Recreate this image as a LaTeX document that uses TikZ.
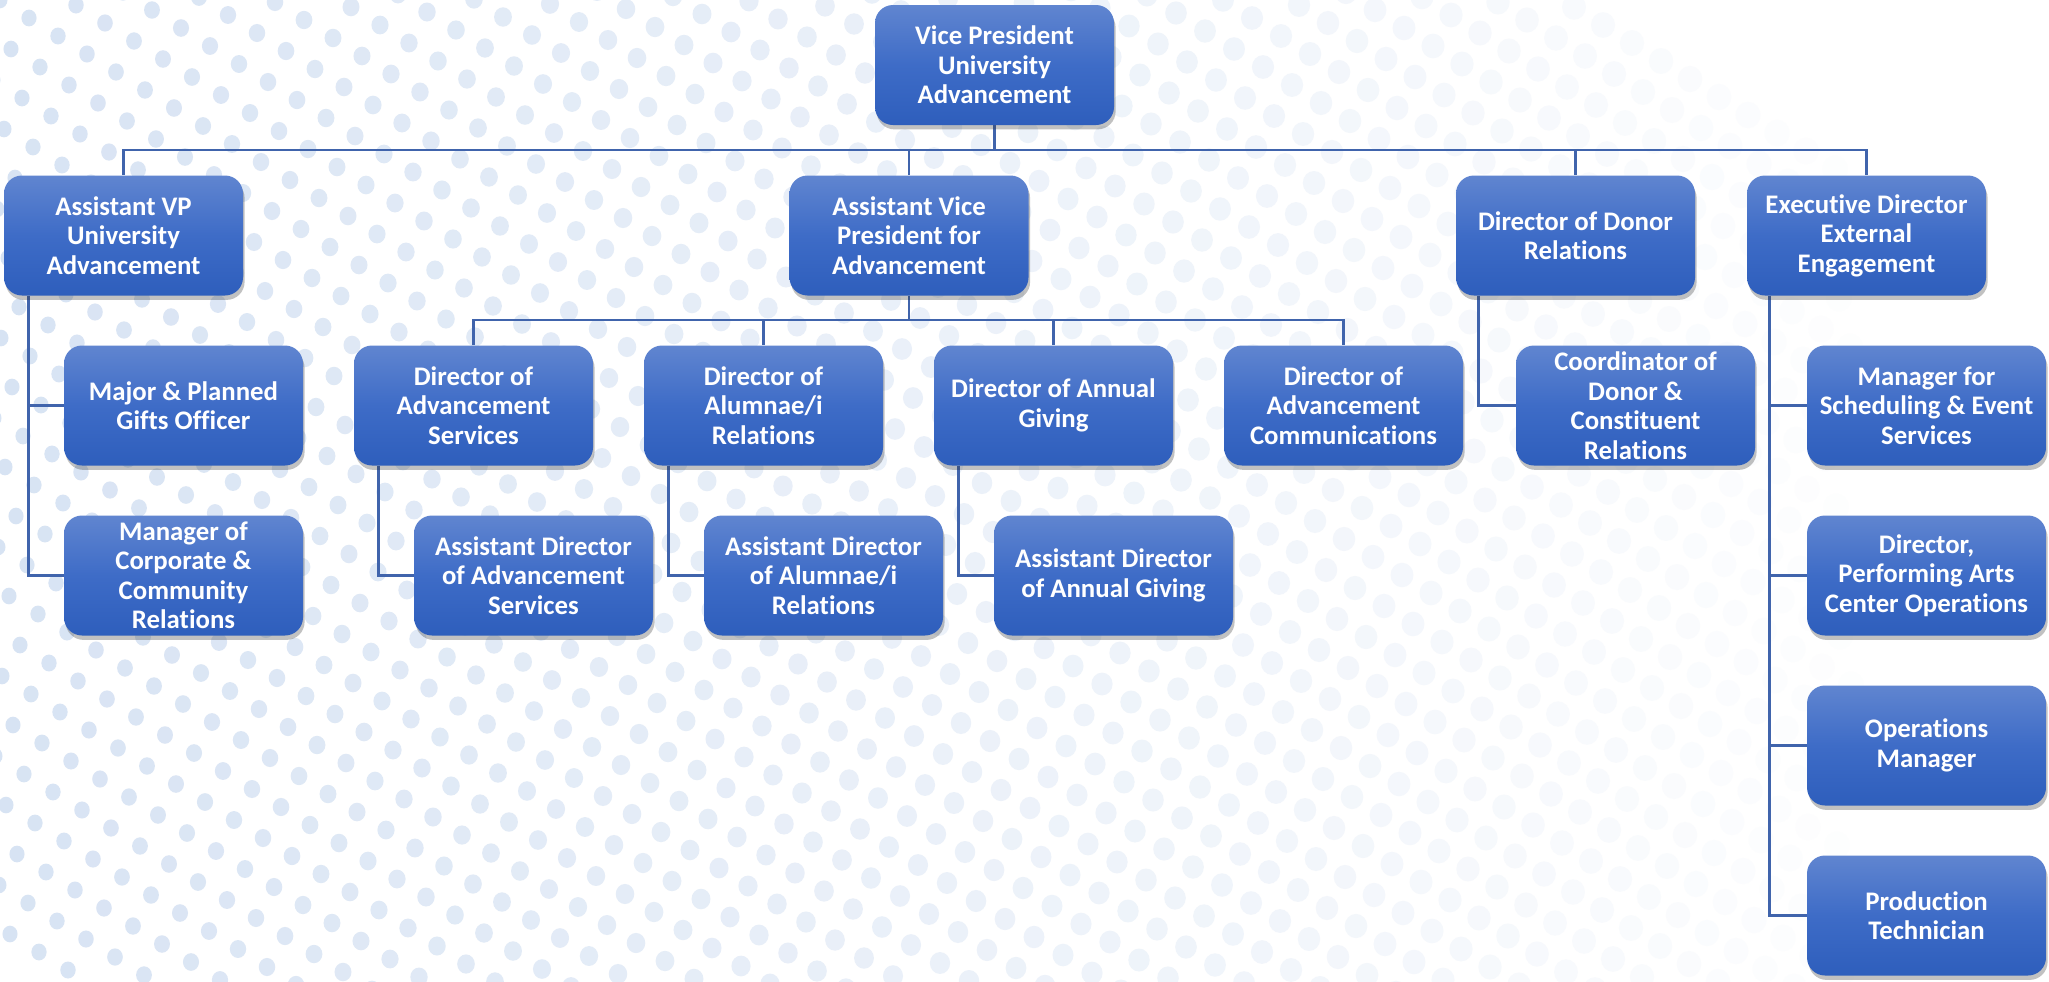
\documentclass[tikz,border=0pt]{standalone}
\usepackage{fontspec}
\setmainfont{Carlito}[Ligatures=NoCommon]
\usetikzlibrary{shadows}
\definecolor{boxtop}{RGB}{96,133,208}
\definecolor{boxmid}{RGB}{62,108,199}
\definecolor{boxbot}{RGB}{46,94,188}
\definecolor{linec}{RGB}{64,100,172}
\definecolor{dotc}{RGB}{208,222,241}
\pgfdeclarelayer{dots}\pgfdeclarelayer{lines}\pgfsetlayers{dots,lines,main}
\tikzset{
 orgbox/.style={rectangle, rounded corners=9pt, minimum width=119.5pt, minimum height=60pt,
   inner sep=0pt, align=center, text=white,
   font={\fontsize{13.4pt}{14.75pt}\selectfont\bfseries},
   top color=boxtop, bottom color=boxbot, middle color=boxmid,
   drop shadow={shadow xshift=0.8pt, shadow yshift=-2.2pt, opacity=0.3, fill=black!80}},
 conn/.style={draw=linec, line width=1.2pt}
}
\begin{document}
\begin{tikzpicture}[x=0.5pt,y=-0.5pt]
\useasboundingbox (0,0) rectangle (2049,981);
\begin{pgfonlayer}{dots}
\fill[white] (0,0) rectangle (2049,981);
\begin{scope}
\clip (0,0) rectangle (2049,981);
\foreach \n in {-6,...,60}{
 \foreach \m in {-23,...,23}{
  \pgfmathsetmacro\px{\n*29+\m*76}
  \pgfmathsetmacro\py{\n*18+\m*5}
  \pgfmathtruncatemacro\op{max(0,min(85,85-\px*0.04375))}
  \ifnum\op>3
   \ifdim\py pt>-20pt \ifdim\py pt<1000pt \ifdim\px pt>-20pt
     \pgfmathsetmacro\dotrx{7.5+max(0,\px)*0.0028}
     \pgfmathsetmacro\dotry{\dotrx+0.8}
     \fill[dotc!\op!white] (\px,\py) ellipse [x radius=\dotrx, y radius=\dotry];
   \fi\fi\fi
  \fi
 }}
\end{scope}
\end{pgfonlayer}

% level 0
\node[orgbox] (vp) at (994.5,65) {Vice President\\University\\Advancement};
% level 1
\node[orgbox] (avpua) at (123.5,235.5) {Assistant VP\\University\\Advancement};
\node[orgbox] (avpadv) at (909,235.5) {Assistant Vice\\President for\\Advancement};
\node[orgbox] (donor) at (1575.5,235.5) {Director of Donor\\Relations};
\node[orgbox] (exec) at (1866.5,235.5) {Executive Director\\External\\Engagement};
% level 2
\node[orgbox] (major) at (183.5,405.5) {Major \& Planned\\Gifts Officer};
\node[orgbox] (mgrcorp) at (183.5,575.5) {Manager of\\Corporate \&\\Community\\Relations};
\node[orgbox] (diras) at (473.5,405.5) {Director of\\Advancement\\Services};
\node[orgbox] (diral) at (763.5,405.5) {Director of\\Alumnae/i\\Relations};
\node[orgbox] (dirag) at (1053.5,405.5) {Director of Annual\\Giving};
\node[orgbox] (dirac) at (1343.5,405.5) {Director of\\Advancement\\Communications};
\node[orgbox] (coord) at (1635.5,405.5) {Coordinator of\\Donor \&\\Constituent\\Relations};
\node[orgbox] (sched) at (1926.5,405.5) {Manager for\\Scheduling \& Event\\Services};
% level 3
\node[orgbox] (adas) at (533.5,575.5) {Assistant Director\\of Advancement\\Services};
\node[orgbox] (adal) at (823.5,575.5) {Assistant Director\\of Alumnae/i\\Relations};
\node[orgbox] (adag) at (1113.5,575.5) {Assistant Director\\of Annual Giving};
\node[orgbox] (pac) at (1926.5,575.5) {Director,\\Performing Arts\\Center Operations};
\node[orgbox] (ops) at (1926.5,745.5) {Operations\\Manager};
\node[orgbox] (prod) at (1926.5,915.5) {Production\\Technician};

\coordinate (bus1) at (994.5,150);
\coordinate (bus2) at (909,320);
\begin{pgfonlayer}{lines}
\draw[conn] (vp.south) -- (bus1);
\draw[conn] (avpua.north) |- (bus1) -| (exec.north);
\draw[conn] (avpadv.north) -- (avpadv.north |- bus1);
\draw[conn] (donor.north) -- (donor.north |- bus1);
\draw[conn] (avpadv.south) -- (bus2);
\draw[conn] (diras.north) |- (bus2) -| (dirac.north);
\draw[conn] (diral.north) -- (diral.north |- bus2);
\draw[conn] (dirag.north) -- (dirag.north |- bus2);
\draw[conn] ([xshift=12.5pt]avpua.south west) |- (major.west);
\draw[conn] ([xshift=12.5pt]avpua.south west) |- (mgrcorp.west);
\draw[conn] ([xshift=12.5pt]diras.south west) |- (adas.west);
\draw[conn] ([xshift=12.5pt]diral.south west) |- (adal.west);
\draw[conn] ([xshift=12.5pt]dirag.south west) |- (adag.west);
\draw[conn] ([xshift=11.5pt]donor.south west) |- (coord.west);
\draw[conn] ([xshift=11.5pt]exec.south west) |- (sched.west);
\draw[conn] ([xshift=11.5pt]exec.south west) |- (pac.west);
\draw[conn] ([xshift=11.5pt]exec.south west) |- (ops.west);
\draw[conn] ([xshift=11.5pt]exec.south west) |- (prod.west);
\end{pgfonlayer}
\end{tikzpicture}
\end{document}
